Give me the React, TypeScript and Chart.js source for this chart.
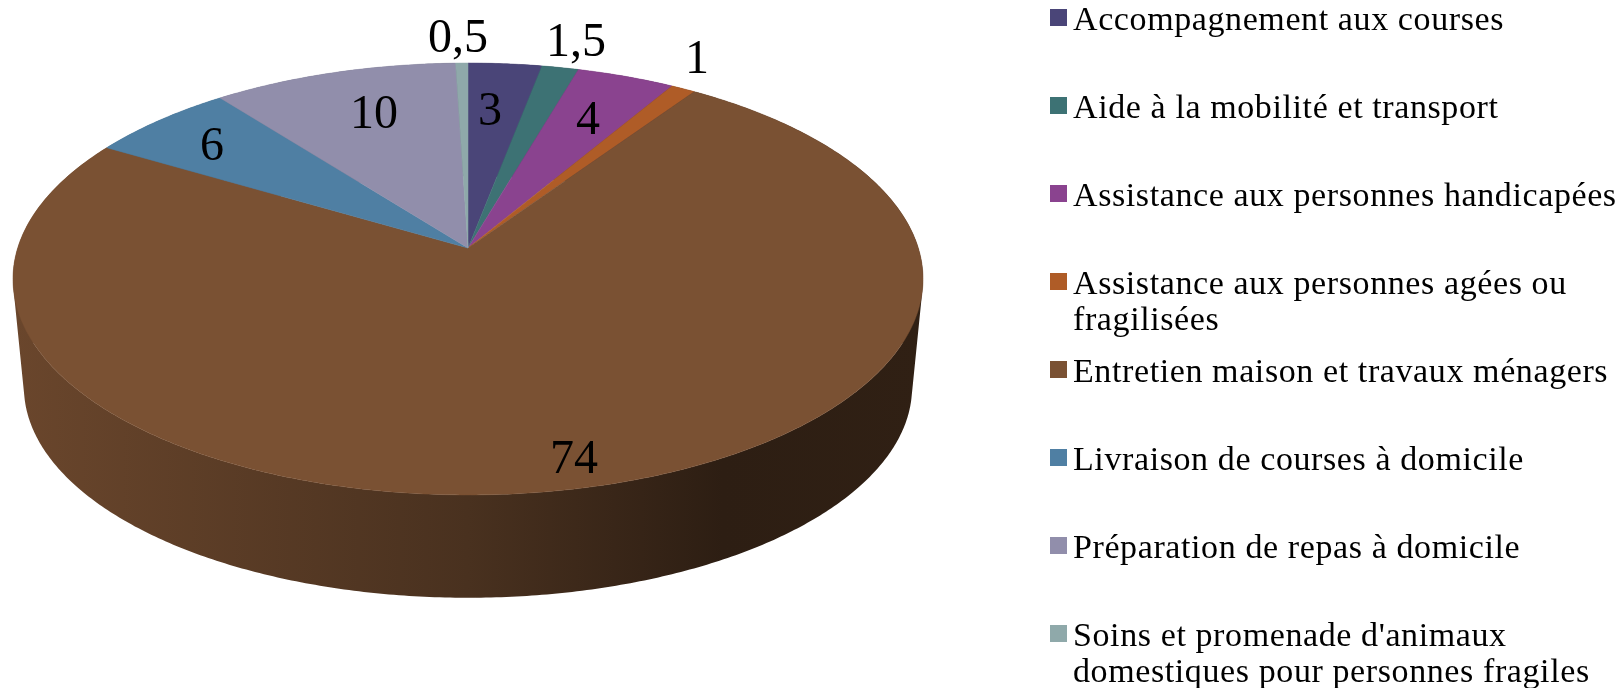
import React, { useEffect, useRef } from "react";
import { Chart, registerables } from "chart.js";

Chart.register(...registerables);

// ---- data ----
const categories = [
  "Accompagnement aux courses",
  "Aide à la mobilité et transport",
  "Assistance aux personnes handicapées",
  "Assistance aux personnes agées ou fragilisées",
  "Entretien maison et travaux ménagers",
  "Livraison de courses à domicile",
  "Préparation de repas à domicile",
  "Soins et promenade d'animaux domestiques pour personnes fragiles",
];
const shares = [3, 1.5, 4, 1, 74, 6, 10, 0.5];
const sliceColors = ["#4A4578", "#3D7274", "#8A438F", "#AF5C27", "#7A5133", "#4F7FA3", "#918EAB", "#8FA9AA"];
const legendLines = [
  ["Accompagnement aux courses"],
  ["Aide à la mobilité et transport"],
  ["Assistance aux personnes handicapées"],
  ["Assistance aux personnes agées ou", "fragilisées"],
  ["Entretien maison et travaux ménagers"],
  ["Livraison de courses à domicile"],
  ["Préparation de repas à domicile"],
  ["Soins et promenade d'animaux", "domestiques pour personnes fragiles"],
];

// ---- layout ----
const W = 1621;
const H = 688;
const APEX = { x: 468, y: 248 };
const K = -0.1435; // perspective strength
const AX = 450.3;
const BY = 211.5;
const TOP_CENTER_Y = 279;
const BASE_CENTER_Y = 387;
const BASE_SCALE = 0.976;
const LEFT = 13;
const RIGHT = 923;
const LABEL_FONT = '48px "Liberation Serif"';
const LABEL_POS = [
  [490, 112], [576, 43], [588, 121], [697, 60], [574, 460], [212, 147], [374, 115], [458, 39],
];
const SIDE_STOPS = [[0, 0.87], [0.5, 0.6], [0.78, 0.37], [1, 0.39]];

function topPoint(a: number) {
  const u = Math.cos(a);
  const v = Math.sin(a);
  const d = 1 + K * v;
  return { x: APEX.x + (AX * u) / d, y: APEX.y + (BY * v) / d };
}
function basePoint(a: number) {
  const p = topPoint(a);
  return {
    x: APEX.x + (p.x - APEX.x) * BASE_SCALE,
    y: BASE_CENTER_Y + (p.y - TOP_CENTER_Y) * BASE_SCALE,
  };
}
function shade(hex: string, f: number) {
  const n = parseInt(hex.slice(1), 16);
  return `rgb(${Math.round(((n >> 16) & 255) * f)},${Math.round(((n >> 8) & 255) * f)},${Math.round((n & 255) * f)})`;
}

const perspectivePie = {
  id: "perspectivePie",
  beforeDatasetDraw(chart: any, args: any) {
    const ctx = chart.ctx;
    const arcs = chart.getDatasetMeta(args.index).data;
    // side walls
    arcs.forEach((arc: any, i: number) => {
      const { startAngle, endAngle } = arc;
      const steps = Math.max(2, Math.ceil((endAngle - startAngle) / 0.01));
      const g = ctx.createLinearGradient(LEFT, 0, RIGHT, 0);
      SIDE_STOPS.forEach(([o, f]) => g.addColorStop(o, shade(sliceColors[i], f)));
      ctx.beginPath();
      for (let s = 0; s < steps; s++) {
        const a0 = startAngle + ((endAngle - startAngle) * s) / steps;
        const a1 = startAngle + ((endAngle - startAngle) * (s + 1)) / steps;
        const q = [topPoint(a0), topPoint(a1), basePoint(a1), basePoint(a0)];
        let area = 0;
        q.forEach((p, j) => {
          const n = q[(j + 1) % 4];
          area += p.x * n.y - n.x * p.y;
        });
        if (area < 0) q.reverse();
        q.forEach((p, j) => (j ? ctx.lineTo(p.x, p.y) : ctx.moveTo(p.x, p.y)));
        ctx.closePath();
      }
      ctx.fillStyle = g;
      ctx.fill("nonzero");
    });
    // top face
    arcs.forEach((arc: any, i: number) => {
      const { startAngle, endAngle } = arc;
      const steps = Math.max(2, Math.ceil((endAngle - startAngle) / 0.01));
      ctx.beginPath();
      ctx.moveTo(APEX.x, APEX.y);
      for (let s = 0; s <= steps; s++) {
        const p = topPoint(startAngle + ((endAngle - startAngle) * s) / steps);
        ctx.lineTo(p.x, p.y);
      }
      ctx.closePath();
      ctx.fillStyle = sliceColors[i];
      ctx.strokeStyle = sliceColors[i];
      ctx.lineWidth = 0.5;
      ctx.fill();
      ctx.stroke();
    });
    return false;
  },
  afterDatasetsDraw(chart: any) {
    const ctx = chart.ctx;
    ctx.save();
    ctx.font = LABEL_FONT;
    ctx.fillStyle = "#000";
    ctx.textAlign = "center";
    ctx.textBaseline = "middle";
    shares.forEach((v, i) => {
      ctx.fillText(String(v).replace(".", ","), LABEL_POS[i][0], LABEL_POS[i][1]);
    });
    ctx.restore();
  },
};

export default function App() {
  const ref = useRef<HTMLCanvasElement | null>(null);
  useEffect(() => {
    const chart = new Chart(ref.current as HTMLCanvasElement, {
      type: "pie",
      data: {
        labels: categories,
        datasets: [{ data: shares, backgroundColor: sliceColors, borderWidth: 0 }],
      },
      options: {
        animation: false,
        responsive: false,
        plugins: { legend: { display: false }, tooltip: { enabled: false } },
      },
      plugins: [perspectivePie],
    });
    return () => chart.destroy();
  }, []);

  return (
    <div style={{ position: "fixed", left: 0, top: 0, width: W, height: H, background: "#fff", overflow: "hidden" }}>
      <canvas ref={ref} width={W} height={H} style={{ position: "absolute", left: 0, top: 0 }} />
      {legendLines.map((lines, i) => (
        <div key={i} style={{ position: "absolute", left: 1050, top: 9 + i * 88 }}>
          <div style={{ position: "absolute", left: 0, top: 0, width: 17, height: 17, background: sliceColors[i] }} />
          {lines.map((t, j) => (
            <div
              key={j}
              style={{
                position: "absolute",
                left: 23,
                top: -10 + j * 35.5,
                whiteSpace: "nowrap",
                fontFamily: '"Liberation Serif"',
                fontSize: 34,
                letterSpacing: "0.6px",
                lineHeight: "40px",
                color: "#000",
              }}
            >
              {t}
            </div>
          ))}
        </div>
      ))}
    </div>
  );
}
